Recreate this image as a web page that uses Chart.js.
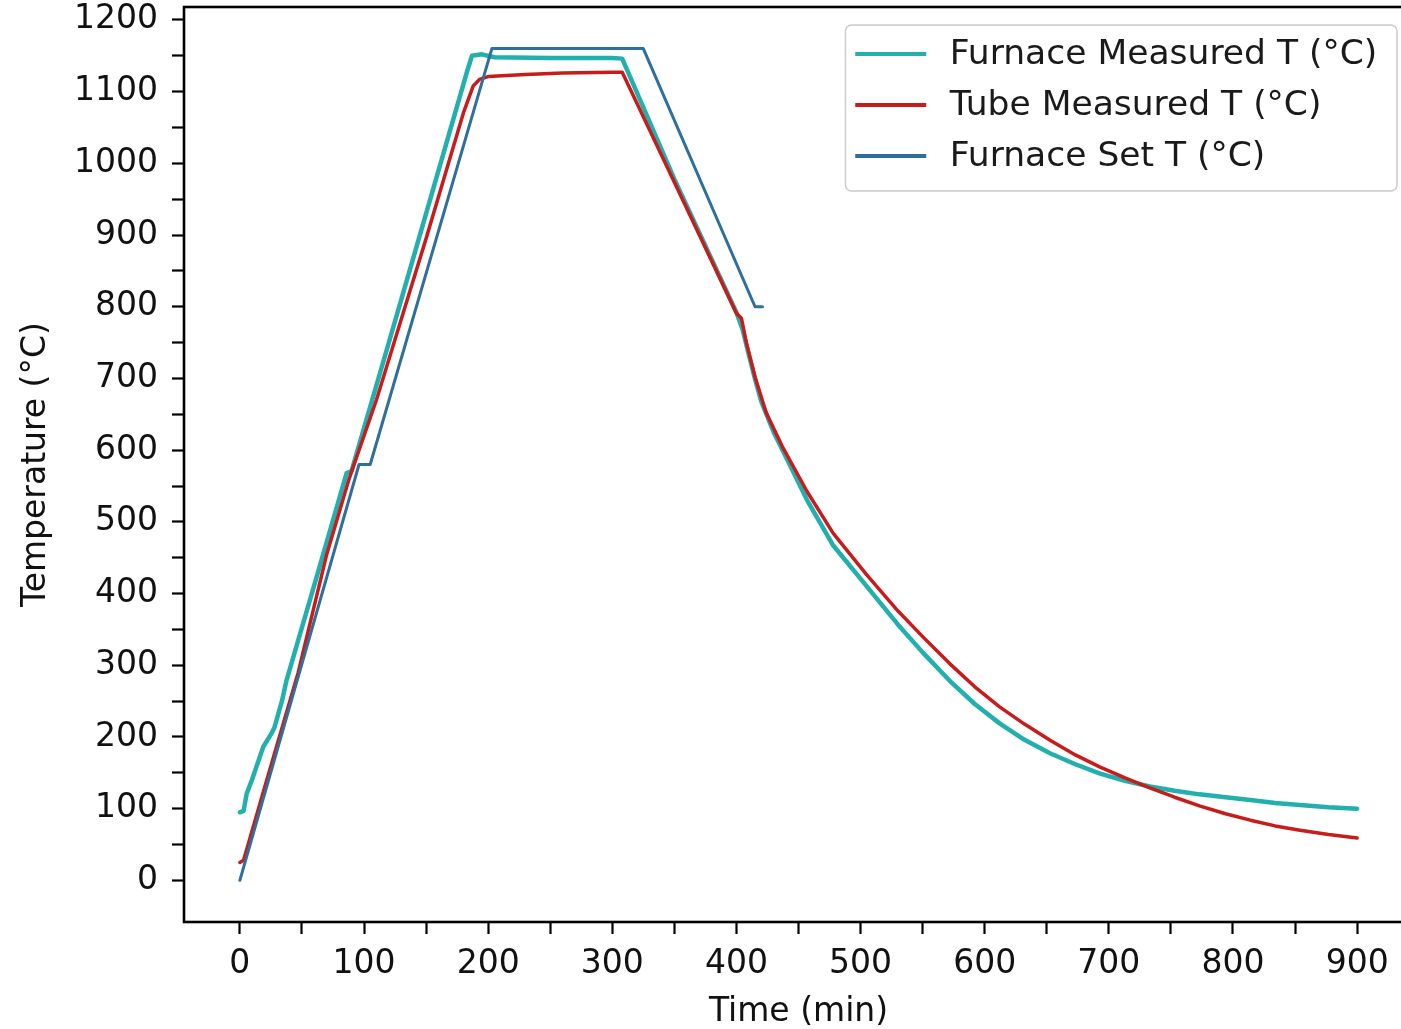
<!DOCTYPE html>
<html>
<head>
<meta charset="utf-8">
<script src="https://cdn.jsdelivr.net/npm/chart.js@4/dist/chart.umd.min.js"></script>
<style>
  html, body { margin: 0; padding: 0; background: #fff; overflow: hidden; }
  #wrap { width: 1420px; height: 1029px; }
</style>
</head>
<body>
<div id="wrap"><canvas id="myChart" width="1420" height="1029"></canvas></div>
<script>
// furnace thermocouple (min, °C)
const furnaceTime = [0, 3, 5.5, 9.7, 18.8, 25.5, 28, 34, 37.6, 60, 86, 90, 120, 150, 183, 187, 195, 205, 250, 300, 308,
  350, 400, 405, 410, 415, 420, 430, 440, 457, 478, 505, 530, 550, 572, 592, 612, 632, 653, 673, 693, 713, 733, 753, 773,
  794, 814, 834, 854, 877, 900];
const furnaceTemp = [95, 97, 121, 140, 186, 205, 214, 251, 279, 412, 568, 571, 750, 930, 1128, 1150, 1152, 1148, 1147, 1147, 1146,
  978, 792, 768, 733, 699, 668, 625, 590, 530, 467, 410, 357, 318, 278, 246, 219, 196, 177, 162, 149, 139, 131, 125, 120,
  116, 112, 108, 105, 102, 100];

// tube thermocouple
const tubeTime = [0, 3, 8, 20, 47, 70, 88, 110, 150, 180, 188, 193, 200, 230, 260, 300, 308,
  400, 404, 408, 415, 424, 437, 457, 478, 505, 530, 550, 572, 592, 612, 632, 653, 673, 693, 713, 733, 753, 773,
  794, 814, 834, 854, 877, 900];
const tubeTemp = [25, 28, 58, 130, 290, 455, 560, 670, 895, 1070, 1108, 1117, 1121, 1124, 1126, 1127, 1127,
  791, 784, 750, 702, 652, 605, 542, 484, 426, 376, 340, 302, 270, 242, 218, 195, 175, 158, 143, 129, 116, 104,
  93, 84, 76, 70, 64, 59];

// controller set point
const setTime = [0, 96, 105, 203, 325, 415, 421];
const setTemp = [0, 580, 580, 1160, 1160, 800, 800];

const xTickValues = [0, 50, 100, 150, 200, 250, 300, 350, 400, 450, 500, 550, 600, 650, 700, 750, 800, 850, 900];
const yTickValues = [0, 50, 100, 150, 200, 250, 300, 350, 400, 450, 500, 550, 600, 650, 700, 750, 800, 850, 900,
  950, 1000, 1050, 1100, 1150, 1200];

const FONT = "'DejaVu Sans', sans-serif";
const FS = 33;

const toPoints = (xs, ys) => xs.map((x, i) => ({x: x, y: ys[i]}));

const data = {
  datasets: [
    {
      label: 'Furnace Measured T (°C)',
      data: toPoints(furnaceTime, furnaceTemp),
      borderColor: '#21b0ad',
      borderWidth: 4.5,
      order: 3,
    },
    {
      label: 'Tube Measured T (°C)',
      data: toPoints(tubeTime, tubeTemp),
      borderColor: '#c81b1b',
      borderWidth: 3.5,
      order: 2,
    },
    {
      label: 'Furnace Set T (°C)',
      data: toPoints(setTime, setTemp),
      borderColor: '#2e6f9c',
      borderWidth: 3,
      order: 1,
    },
  ]
};

/*********************************
 PLUGINS
**********************************/
const framePlugin = {
  id: 'frame',
  afterDatasetsDraw(chart) {
    const {ctx, chartArea: a} = chart;
    ctx.save();
    ctx.strokeStyle = '#000';
    ctx.lineWidth = 2.6;
    ctx.strokeRect(a.left, a.top, a.right - a.left, a.bottom - a.top);
    ctx.restore();
  }
};

// legend box in the upper right corner of the plot
const legendPlugin = {
  id: 'boxLegend',
  afterDraw(chart) {
    const {ctx, chartArea: a} = chart;
    const sets = chart.data.datasets;
    const fs = 34.5;
    ctx.save();
    ctx.font = fs + 'px ' + FONT;
    const textW = Math.max(...sets.map(d => ctx.measureText(d.label).width));
    const pad = 0.4 * fs, handle = 2.0 * fs, gap = 0.8 * fs, rowH = 51;
    const w = pad + handle + gap + textW + pad;
    const h = rowH * sets.length + 13;
    const right = a.right - 16, top = a.top + 18;
    const left = right - w;
    ctx.beginPath();
    ctx.roundRect(left, top, w, h, 6);
    ctx.fillStyle = 'rgba(255,255,255,0.8)';
    ctx.fill();
    ctx.strokeStyle = '#cccccc';
    ctx.lineWidth = 1.5;
    ctx.stroke();
    sets.forEach((d, i) => {
      const y = top + 29 + i * rowH;
      ctx.beginPath();
      ctx.moveTo(left + pad - 4, y);
      ctx.lineTo(left + pad + handle - 2, y);
      ctx.strokeStyle = d.borderColor;
      ctx.lineWidth = 4;
      ctx.stroke();
      ctx.fillStyle = '#1a1a1a';
      ctx.textBaseline = 'middle';
      ctx.fillText(d.label, left + pad + handle + gap - 6, y + 1);
    });
    ctx.restore();
  }
};

const config = {
  type: 'line',
  data: data,
  options: {
    responsive: false,
    animation: false,
    devicePixelRatio: 1,
    layout: { padding: { top: 7, right: 7, left: 0, bottom: 0 } },
    elements: {
      point: { radius: 0 },
      line: { tension: 0, borderCapStyle: 'round', borderJoinStyle: 'round' }
    },
    plugins: {
      legend: { display: false },
      tooltip: { enabled: false },
    },
    scales: {
      x: {
        type: 'linear',
        min: -45,
        max: 945,
        afterBuildTicks(axis) { axis.ticks = xTickValues.map(v => ({value: v})); },
        afterFit(axis) { axis.height = 107; axis.paddingLeft = 0; axis.paddingRight = 0; },
        border: { display: false },
        grid: { drawOnChartArea: false, drawTicks: true, tickLength: 12, tickWidth: 2.2, tickColor: '#000' },
        ticks: {
          color: '#111',
          font: { family: FONT, size: FS },
          padding: 11,
          maxRotation: 0,
          autoSkip: false,
          callback: v => (v % 100 === 0 ? String(v) : ''),
        },
        title: {
          display: true,
          text: 'Time (min)',
          color: '#111',
          font: { family: FONT, size: FS, lineHeight: 1.0 },
          padding: { top: 0, bottom: 0 },
        },
      },
      y: {
        min: -58,
        max: 1218,
        afterBuildTicks(axis) { axis.ticks = yTickValues.map(v => ({value: v})); },
        afterFit(axis) { axis.width = 184; axis.paddingTop = 0; axis.paddingBottom = 0; },
        border: { display: false },
        grid: { drawOnChartArea: false, drawTicks: true, tickLength: 12, tickWidth: 2.2, tickColor: '#000' },
        ticks: {
          color: '#111',
          font: { family: FONT, size: FS },
          padding: 14,
          autoSkip: false,
          callback: v => (v % 100 === 0 ? String(v) : ''),
        },
        title: {
          display: true,
          text: 'Temperature (°C)',
          color: '#111',
          font: { family: FONT, size: FS, lineHeight: 1.2 },
          padding: { top: 17, bottom: 0 },
        },
      },
    },
  },
  plugins: [framePlugin, legendPlugin]
};

new Chart(document.getElementById('myChart'), config);
</script>
</body>
</html>
